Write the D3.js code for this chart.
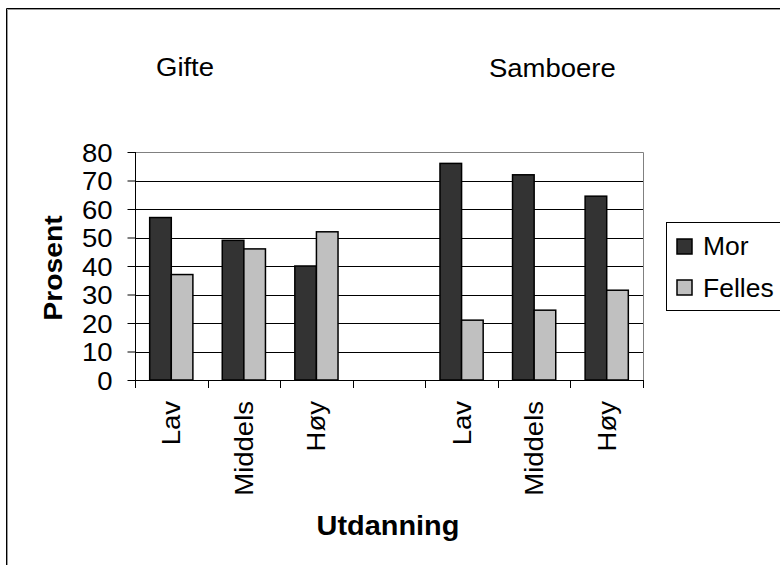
<!DOCTYPE html>
<html><head><meta charset="utf-8">
<script src="https://cdn.jsdelivr.net/npm/d3@7"></script>
<style>
body{margin:0;background:#fff;}
text{font-family:"Liberation Sans",Arial,sans-serif;fill:#000;}
</style></head>
<body>
<svg id="chart" width="780" height="565"></svg>
<script>
const categories = ["Lav","Middels","Høy","","Lav","Middels","Høy"];
const morValues = [57,49,40,null,76,72,64.5];
const fellesValues = [37,46,52,null,21,24.5,31.5];
const seriesNames = ["Mor","Felles"];
const seriesColors = ["#333333","#c0c0c0"];
const yTicks = [0,10,20,30,40,50,60,70,80];
const groupTitles = ["Gifte","Samboere"];

const svg = d3.select("#chart");
const W=780,H=565;
const m={left:135,right:643,top:152,bottom:380};
const SX = 1.1; // horizontal stretch of text glyphs

// outer frame
svg.append("path").attr("d",`M6.5,${H} V8.5 H${W}`).attr("fill","none").attr("stroke","#000").attr("stroke-width",1);
svg.append("path").attr("d",`M7.5,${H} V9.5 H${W}`).attr("fill","none").attr("stroke","#999").attr("stroke-width",1);

const x = d3.scaleBand().domain(d3.range(categories.length)).range([m.left,m.right]).padding(0);
const xs = d3.scaleBand().domain(seriesNames).range([0,x.bandwidth()]).paddingInner(0).paddingOuter(0.68);
const y = d3.scaleLinear().domain([0,80]).range([m.bottom,m.top]);

// gridlines
svg.append("g").selectAll("line").data(yTicks.filter(d=>d>0&&d<80)).join("line")
  .attr("x1",m.left).attr("x2",m.right)
  .attr("y1",d=>Math.round(y(d))+0.5).attr("y2",d=>Math.round(y(d))+0.5)
  .attr("stroke","#000").attr("stroke-width",1);
// plot border top/right gray
svg.append("path").attr("d",`M${m.left},${m.top+0.5} H${m.right+0.5} V${m.bottom}`)
  .attr("fill","none").attr("stroke","#808080").attr("stroke-width",1);

// bars
const rows = categories.map((c,i)=>({i, vals:[morValues[i],fellesValues[i]]}));
const g = svg.append("g");
rows.forEach(r=>{
  r.vals.forEach((v,k)=>{
    if(v==null) return;
    g.append("rect")
      .attr("x",x(r.i)+xs(seriesNames[k]))
      .attr("y",y(v))
      .attr("width",xs.bandwidth())
      .attr("height",y(0)-y(v))
      .attr("fill",seriesColors[k]).attr("stroke","#000").attr("stroke-width",1.5);
  });
});

// y axis
const yAxis = d3.axisLeft(y).tickValues(yTicks).tickSize(8).tickPadding(14);
const ya = svg.append("g").attr("transform",`translate(${m.left+0.5},0)`).call(yAxis);
ya.select(".domain").remove();
ya.append("line").attr("x1",0).attr("x2",0).attr("y1",m.top).attr("y2",m.bottom+8).attr("stroke","#000");
ya.selectAll("text").each(function(){
  const t=d3.select(this); const xx=+t.attr("x");
  t.attr("x",0).attr("transform",`translate(${xx-1},0) scale(${SX},1)`);
}).style("font-size","25px").attr("font-family","Liberation Sans, Arial").attr("fill","#000").attr("dy","0.36em");

// x axis line and ticks at boundaries
svg.append("line").attr("x1",m.left).attr("x2",m.right+1).attr("y1",m.bottom+0.5).attr("y2",m.bottom+0.5).attr("stroke","#000");
const bounds = d3.range(categories.length+1).map(i=> i<categories.length? x(i) : m.right);
svg.append("g").selectAll("line").data(bounds).join("line")
  .attr("x1",d=>Math.round(d)+0.5).attr("x2",d=>Math.round(d)+0.5)
  .attr("y1",m.bottom).attr("y2",m.bottom+8).attr("stroke","#000");
// x tick labels rotated
svg.append("g").selectAll("text").data(categories.map((c,i)=>({c,i}))).join("text")
  .attr("transform",d=>`translate(${x(d.i)+x.bandwidth()/2+9},401) rotate(-90) scale(${SX},1)`)
  .attr("text-anchor","end").style("font-size","25px").text(d=>d.c);

// group titles
svg.append("text").attr("transform",`translate(156,76) scale(${SX},1)`).style("font-size","25px").text(groupTitles[0]);
svg.append("text").attr("transform",`translate(489,77) scale(${SX},1)`).style("font-size","25px").text(groupTitles[1]);

// axis titles
svg.append("text").attr("transform",`translate(62,268) rotate(-90) scale(1.09,1)`).attr("text-anchor","middle")
  .style("font-size","26px").style("font-weight","bold").text("Prosent");
svg.append("text").attr("transform",`translate(388,535) scale(1.07,1)`).attr("text-anchor","middle")
  .style("font-size","27px").style("font-weight","bold").text("Utdanning");

// legend
const lg = svg.append("g");
lg.append("rect").attr("x",666.5).attr("y",222.5).attr("width",130).attr("height",88).attr("fill","#fff").attr("stroke","#000");
seriesNames.forEach((s,k)=>{
  lg.append("rect").attr("x",677).attr("y",239+k*41).attr("width",15).attr("height",15)
    .attr("fill",seriesColors[k]).attr("stroke","#000").attr("stroke-width",1.5);
  lg.append("text").attr("transform",`translate(703,${255+k*42}) scale(1.06,1)`).style("font-size","25px").text(s);
});
</script>
</body></html>
